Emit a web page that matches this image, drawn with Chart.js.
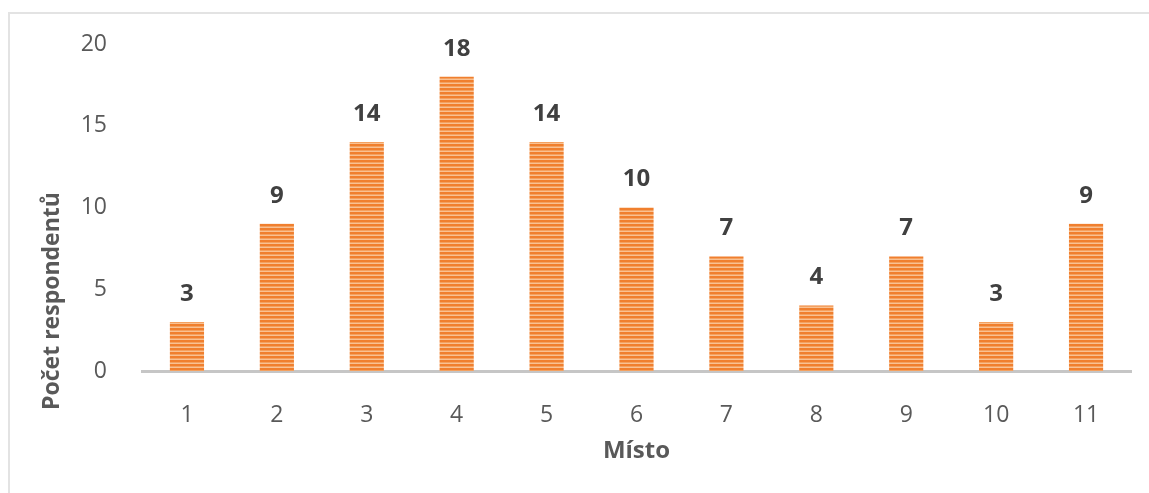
<!DOCTYPE html>
<html>
<head>
<meta charset="utf-8">
<script src="https://cdn.jsdelivr.net/npm/chart.js@4/dist/chart.umd.min.js"></script>
<style>
    html, body { margin: 0; padding: 0; background: #fff; overflow: hidden; }
    #wrap { position: relative; width: 1149px; height: 493px; }
    #frame { position: absolute; left: 8px; top: 12px; right: -2px; bottom: -2px; border-top: 2px solid #e3e3e3; border-left: 2px solid #e3e3e3; }
    canvas { position: absolute; left: 0; top: 0; }
</style>
</head>
<body>
<div id="wrap">
    <div id="frame"></div>
    <canvas id="chart" width="1149" height="493"></canvas>
</div>
<script>
// Bar chart: number of respondents per place (Místo), striped orange bars.
const places = ['1', '2', '3', '4', '5', '6', '7', '8', '9', '10', '11'];
const respondents = [3, 9, 14, 18, 14, 10, 7, 4, 7, 3, 9];
const yTicks = [0, 5, 10, 15, 20];
const yTitle = 'Počet respondentů';
const xTitle = 'Místo';

const FONT = '"Open Sans", "Noto Sans", sans-serif';
const TEXT_MUTED = '#595959';
const TEXT_LABEL = '#404040';

// horizontal stripes like the original fill
function stripes() {
    const c = document.createElement('canvas');
    c.width = 4; c.height = 4;
    const g = c.getContext('2d');
    g.fillStyle = '#f07f2e';
    g.fillRect(0, 0, 4, 4);
    g.fillStyle = '#f9c192';
    g.fillRect(0, 3, 4, 1);
    g.fillStyle = '#f4a160';
    g.fillRect(0, 2, 4, 1);
    return g.createPattern(c, 'repeat');
}

const valueLabels = {
    id: 'valueLabels',
    afterDatasetsDraw(chart) {
        const ctx = chart.ctx;
        const meta = chart.getDatasetMeta(0);
        ctx.save();
        ctx.font = 'bold 24px ' + FONT;
        ctx.fillStyle = TEXT_LABEL;
        ctx.textAlign = 'center';
        ctx.textBaseline = 'middle';
        meta.data.forEach((bar, i) => {
            ctx.fillText(String(respondents[i]), bar.x, bar.y - 28);
        });
        ctx.restore();
    }
};

// the y title sits lower than the plot centre in the original, so place it by hand
const sideTitle = {
    id: 'sideTitle',
    afterDraw(chart) {
        const ctx = chart.ctx;
        ctx.save();
        ctx.translate(52, 301);
        ctx.rotate(-Math.PI / 2);
        ctx.font = 'bold 23px ' + FONT;
        ctx.fillStyle = TEXT_MUTED;
        ctx.textAlign = 'center';
        ctx.textBaseline = 'middle';
        ctx.fillText(yTitle, 0, 0);
        ctx.restore();
    }
};

new Chart(document.getElementById('chart').getContext('2d'), {
    type: 'bar',
    data: {
        labels: places,
        datasets: [{
            data: respondents,
            backgroundColor: stripes(),
            borderWidth: 0,
            barPercentage: 0.38,
            categoryPercentage: 1.0
        }]
    },
    options: {
        responsive: false,
        animation: false,
        layout: { padding: { top: 44, right: 18, bottom: 27, left: 0 } },
        plugins: { legend: { display: false }, tooltip: { enabled: false } },
        scales: {
            x: {
                grid: { display: false },
                border: { display: true, color: '#c6c6c6', width: 3 },
                ticks: { color: TEXT_MUTED, font: { family: FONT, size: 23 }, padding: 23, maxRotation: 0 },
                title: { display: true, text: xTitle, color: TEXT_MUTED, font: { family: FONT, size: 24, weight: 'bold' }, padding: 0 },
                afterFit: s => { s.height = 95; }
            },
            y: {
                min: 0,
                max: 20,
                afterBuildTicks: s => { s.ticks = yTicks.map(v => ({ value: v })); },
                grid: { display: false },
                border: { display: false },
                ticks: { color: TEXT_MUTED, font: { family: FONT, size: 23 }, padding: 27 },
                title: { display: false },
                afterFit: s => { s.width = 142; }
            }
        }
    },
    plugins: [valueLabels, sideTitle]
});
</script>
</body>
</html>
